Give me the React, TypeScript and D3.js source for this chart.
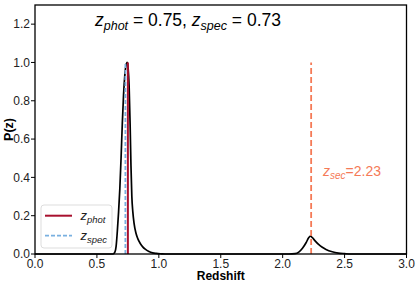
import React from "react";
import * as d3 from "d3";

const W = 416;
const H = 283;
const margin = { left: 35, right: 9.5, top: 5, bottom: 29 };

const zMain: number[] = [0.0, 0.6, 0.63, 0.645, 0.655, 0.665, 0.675, 0.685, 0.695, 0.705, 0.715, 0.725, 0.735, 0.745, 0.752, 0.76, 0.768, 0.775, 0.782, 0.79, 0.80, 0.815, 0.83, 0.85, 0.87, 0.89, 0.92, 0.95, 0.98, 1.02, 1.05];
const pMain: number[] = [0, 0, 0.0, 0.01, 0.04, 0.12, 0.22, 0.34, 0.5, 0.68, 0.83, 0.93, 0.985, 1.0, 0.97, 0.88, 0.68, 0.46, 0.3, 0.22, 0.16, 0.11, 0.08, 0.055, 0.037, 0.025, 0.013, 0.006, 0.003, 0.001, 0];
const zSec: number[] = [2.05, 2.10, 2.13, 2.16, 2.19, 2.21, 2.225, 2.24, 2.26, 2.29, 2.32, 2.35, 2.40, 2.45, 2.50, 2.55, 3.0];
const pSec: number[] = [0, 0.002, 0.01, 0.03, 0.06, 0.085, 0.093, 0.085, 0.07, 0.05, 0.035, 0.024, 0.012, 0.005, 0.002, 0, 0];

const zPhot = 0.75;
const zSpec = 0.73;
const zSecond = 2.23;
const xTicks: number[] = [0, 0.5, 1.0, 1.5, 2.0, 2.5, 3.0];
const yTicks: number[] = [0, 0.2, 0.4, 0.6, 0.8, 1.0, 1.2];

const RED = "#a8102e";
const BLUE = "#79b0e0";
const ORANGE = "#f57a57";
const FONT = "'Liberation Sans', Arial, sans-serif";

export default function App() {
  const x = d3.scaleLinear().domain([0, 3]).range([margin.left, W - margin.right]);
  const y = d3.scaleLinear().domain([0, 1.3]).range([H - margin.bottom, margin.top]);
  const pts: [number, number][] = [
    ...zMain.map((z, i) => [z, pMain[i]] as [number, number]),
    ...zSec.map((z, i) => [z, pSec[i]] as [number, number]),
  ];
  const line = d3
    .line<[number, number]>()
    .x((d) => x(d[0]))
    .y((d) => y(d[1]))
    .curve(d3.curveMonotoneX);
  const x0 = x(0), x1 = x(3), y0 = y(0), y1 = y(1.3);
  return (
    <svg width={W} height={H} style={{ position: "absolute", left: 0, top: 0, background: "#fff" }} fontFamily={FONT}>
      <rect x={0} y={0} width={W} height={H} fill="#fff" />
      {/* curve */}
      <path d={line(pts) || ""} fill="none" stroke="#000" strokeWidth={1.7} />
      {/* vertical lines */}
      <line x1={x(zPhot)} x2={x(zPhot)} y1={y(0)} y2={y(1.0)} stroke={RED} strokeWidth={2} />
      <line x1={x(zSpec)} x2={x(zSpec)} y1={y(0)} y2={y(1.0)} stroke={BLUE} strokeWidth={1.8} strokeDasharray="4,2" />
      <line x1={x(zSecond)} x2={x(zSecond)} y1={y(0)} y2={y(1.0)} stroke={ORANGE} strokeWidth={1.8} strokeDasharray="6,3" />
      {/* secondary label */}
      <text x={323} y={176} fill={ORANGE} fontSize={14}>
        <tspan fontStyle="italic">z</tspan>
        <tspan fontStyle="italic" fontSize={10} dy={3}>sec</tspan>
        <tspan dy={-3}>=2.23</tspan>
      </text>
      {/* title */}
      <text x={95} y={26} fill="#000" fontSize={17.5}>
        <tspan fontStyle="italic">z</tspan>
        <tspan fontStyle="italic" fontSize={12.5} dy={4}>phot</tspan>
        <tspan dy={-4}> = 0.75, </tspan>
        <tspan fontStyle="italic">z</tspan>
        <tspan fontStyle="italic" fontSize={12.5} dy={4}>spec</tspan>
        <tspan dy={-4}> = 0.73</tspan>
      </text>
      {/* legend */}
      <rect x={41} y={205} width={71} height={43} rx={3} fill="#fff" fillOpacity={0.8} stroke="#dddddd" strokeWidth={1} />
      <line x1={45} x2={72} y1={215.7} y2={215.7} stroke={RED} strokeWidth={2} />
      <line x1={45} x2={72} y1={235.7} y2={235.7} stroke={BLUE} strokeWidth={1.8} strokeDasharray="4,2" />
      <text x={80.5} y={220} fontSize={13} fill="#222">
        <tspan fontStyle="italic">z</tspan>
        <tspan fontStyle="italic" fontSize={9.5} dy={3}>phot</tspan>
      </text>
      <text x={80.5} y={239.5} fontSize={13} fill="#222">
        <tspan fontStyle="italic">z</tspan>
        <tspan fontStyle="italic" fontSize={9.5} dy={3}>spec</tspan>
      </text>
      {/* frame */}
      <rect x={x0} y={y1} width={x1 - x0} height={y0 - y1} fill="none" stroke="#000" strokeWidth={1.3} />
      {/* x ticks */}
      {xTicks.map((t) => (
        <g key={"x" + t}>
          <line x1={x(t)} x2={x(t)} y1={y0} y2={y0 + 4} stroke="#000" strokeWidth={1} />
          <text x={x(t)} y={y0 + 13.5} textAnchor="middle" fontSize={12} fill="#222">
            {t.toFixed(1)}
          </text>
        </g>
      ))}
      {/* y ticks */}
      {yTicks.map((t) => (
        <g key={"y" + t}>
          <line x1={x0 - 4} x2={x0} y1={y(t)} y2={y(t)} stroke="#000" strokeWidth={1} />
          <text x={x0 - 5} y={y(t) + 4.3} textAnchor="end" fontSize={12} fill="#222">
            {t.toFixed(1)}
          </text>
        </g>
      ))}
      {/* axis labels */}
      <text x={(x0 + x1) / 2} y={280} textAnchor="middle" fontSize={12} fontWeight="bold" fill="#000">
        Redshift
      </text>
      <text transform={`translate(12.5, ${(y0 + y1) / 2}) rotate(-90)`} textAnchor="middle" fontSize={12.5} fontWeight="bold" fill="#000">
        P(z)
      </text>
    </svg>
  );
}
